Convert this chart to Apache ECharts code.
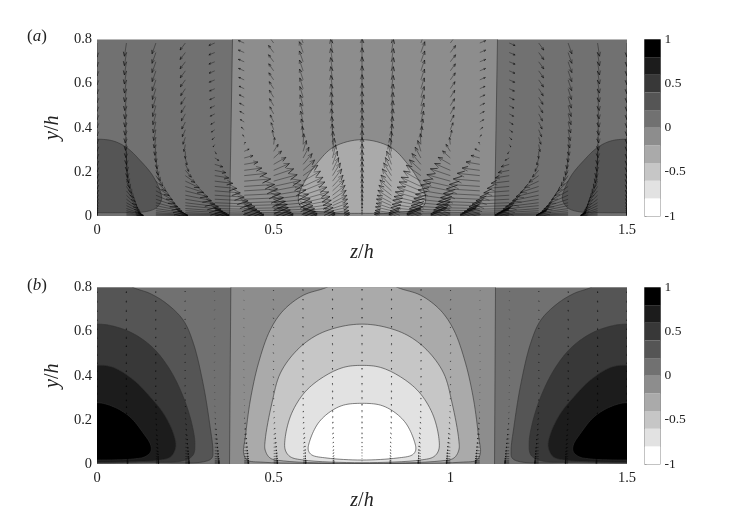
<!DOCTYPE html>
<html><head><meta charset="utf-8">
<style>html,body{margin:0;padding:0;background:#fff}#c{width:747px;height:523px}</style>
<script src="https://cdn.jsdelivr.net/npm/echarts@6/dist/echarts.min.js"></script>
</head><body><div id="c"></div>
<script>
// Colour scale: edges of the contour levels and their greys, bottom (-1) to top (1)
const levelEdges = [-1,-0.8,-0.6,-0.4,-0.2,0,0.2,0.4,0.6,0.8,1];
const levelColors = ['#ffffff','#e2e2e2','#c6c6c6','#aaaaaa','#8d8d8d','#717171','#555555','#383838','#1c1c1c','#000000'];

// Zero contours (z,y)
const aZeroBand = [[0.384,0.85],[0.375,-0.02],[1.125,-0.02],[1.134,0.85]];
const bZeroBand = [[0.379,0.85],[0.375,-0.02],[1.125,-0.02],[1.128,0.85]];
// Half outlines (z,y): the contours are mirror images, corner ones about z=0, centre ones about z=0.75
const aCorner = [[0,0.348],[0.046,0.34],[0.084,0.31],[0.122,0.252],[0.16,0.177],[0.183,0.086],[0.178,0.056],[0.164,0.033],[0.131,0.018],[0.06,0.015],[0,0.015]];
const aCentre = [[0.75,0.346],[0.67,0.313],[0.622,0.238],[0.585,0.148],[0.57,0.086],[0.575,0.048],[0.603,0.026],[0.67,0.014],[0.75,0.012]];
const bCorner1 = [[0,0.87],[0.06,0.845],[0.103,0.8],[0.15,0.773],[0.197,0.727],[0.244,0.652],[0.273,0.546],[0.302,0.35],[0.32,0.169],[0.328,0.063],[0.325,0.027],[0.302,0.01],[0.15,0.006],[0,0.004]];
const bCorner2 = [[0,0.634],[0.046,0.625],[0.104,0.59],[0.16,0.524],[0.207,0.426],[0.244,0.305],[0.268,0.185],[0.277,0.094],[0.272,0.041],[0.244,0.015],[0.123,0.009],[0,0.006]];
const bCorner3 = [[0,0.448],[0.046,0.438],[0.104,0.38],[0.15,0.305],[0.188,0.23],[0.216,0.14],[0.223,0.078],[0.209,0.033],[0.178,0.018],[0.084,0.009],[0,0.007]];
const bCorner4 = [[0,0.278],[0.046,0.26],[0.093,0.214],[0.131,0.14],[0.152,0.086],[0.152,0.056],[0.136,0.033],[0.104,0.023],[0,0.018]];
const bCentre1 = [[0.75,0.87],[0.7,0.845],[0.649,0.8],[0.584,0.765],[0.528,0.697],[0.49,0.607],[0.457,0.457],[0.434,0.29],[0.42,0.124],[0.415,0.05],[0.425,0.018],[0.47,0.008],[0.75,0.003]];
const bCentre2 = [[0.75,0.634],[0.688,0.622],[0.622,0.584],[0.566,0.516],[0.519,0.412],[0.495,0.276],[0.476,0.109],[0.476,0.063],[0.49,0.027],[0.527,0.014],[0.75,0.003]];
const bCentre3 = [[0.75,0.447],[0.698,0.438],[0.641,0.395],[0.589,0.327],[0.551,0.23],[0.533,0.124],[0.533,0.063],[0.547,0.033],[0.584,0.018],[0.75,0.006]];
const bCentre4 = [[0.75,0.275],[0.698,0.267],[0.66,0.237],[0.626,0.185],[0.603,0.109],[0.598,0.063],[0.608,0.041],[0.651,0.027],[0.75,0.018]];

// Velocity samples on rows of y. Unit of u and v: one arrow pixel.
// aU has columns z = 0, 1/12 .. 9/12; the other tables have z = 0 .. 4/12.
// Columns not listed are the mirror images of these in the symmetric field.
const vectorY = [0.784,0.741,0.699,0.658,0.617,0.577,0.538,0.5,0.463,0.426,0.391,0.357,0.324,0.293,0.263,0.234,0.207,0.183,0.158,0.134,0.114,0.094,0.076,0.06,0.047,0.034,0.024,0.015,0.009,0.004];
const aU = [
[0,-2,-3.8,-5.2,-5.9,-5.9,-5.2,-3.8,-2,0],[0,-2,-3.8,-5.2,-5.9,-5.9,-5.2,-3.8,-2,0],[0,-2,-3.8,-5.2,-5.9,-5.9,-5.2,-3.8,-2,0],
[0,-2,-3.7,-5,-5.7,-5.7,-5,-3.7,-2,0],[0,-1.9,-3.6,-4.9,-5.5,-5.5,-4.9,-3.6,-1.9,0],[0,-1.8,-3.4,-4.6,-5.2,-5.2,-4.6,-3.4,-1.8,0],
[0,-1.7,-3.3,-4.4,-5,-5,-4.4,-3.3,-1.7,0],[0,-1.6,-3.1,-4.2,-4.7,-4.7,-4.2,-3.1,-1.6,0],[0,-1.5,-2.9,-3.9,-4.4,-4.4,-3.9,-2.9,-1.5,0],
[0,-1.4,-2.6,-3.5,-3.9,-3.9,-3.5,-2.6,-1.4,0],[0,-1.2,-2.2,-3,-3.3,-2.9,-2.6,-1.9,-1,0],[0,-0.9,-1.7,-2.3,-2.6,-1.5,-1.3,-1,-0.5,0],
[0,-0.5,-1,-1.4,-1.6,1,0.9,0.6,0.3,0],[0,0,0,0,1.5,4.9,4.4,3.2,1.7,0],[0,0.7,1.3,1.7,4,8.8,7.8,5.8,3.1,0],
[0,1.4,2.6,3.5,8,13.7,12.2,9,4.8,0],[0,2.4,4.5,6.1,11,17.6,15.7,11.5,6.1,0],[0,3.7,7,9.6,14,22.5,20,14.7,7.8,0],
[0,5.4,10.2,13.9,18,26.5,23.5,17.3,9.2,0],[0,7.1,13.4,18.3,22,30.4,27,19.8,10.5,0],[0,8.8,16.6,22.6,25.5,33.3,29.6,21.8,11.6,0],
[0,10.2,19.2,26.1,29.4,36.3,32.2,23.7,12.6,0],[0,11.6,21.8,29.6,33.3,39.2,34.8,25.6,13.6,0],[0,12.9,24.3,33.1,37.2,41.2,36.5,26.9,14.3,0],
[0,13.9,26.2,35.7,40.2,43.1,38.3,28.2,15,0],[0,14.6,27.5,37.4,42.1,44.1,39.2,28.8,15.3,0],[0,15.6,29.4,40,45.1,46.1,40.9,30,16,0],
[0,16.3,30.7,41.8,47,47,41.8,30.7,16.3,0],[0,17,32,43.5,49,49,43.5,32,17,0],[0,17,32,43.5,49,49,43.5,32,17,0]];
const aV = [[-14,-13.2,-10.8,-7,-2.4],[-14,-13.2,-10.8,-7,-2.4],[-14,-13.2,-10.8,-7,-2.4],[-14,-13.2,-10.8,-7,-2.4],[-14,-13.2,-10.8,-7,-2.4],[-14,-13.2,-10.8,-7,-2.4],[-14,-13.2,-10.8,-7,-2.4],[-14,-13.2,-10.8,-7,-2.4],[-14,-13.2,-10.8,-7,-2.4],[-14,-13.2,-10.8,-7,-2.4],[-14,-13.2,-10.8,-7,-2.4],[-14,-13.2,-10.8,-7,-2.4],[-14,-13.2,-10.8,-7,-2.4],[-14,-13.2,-10.8,-7,-2.4],[-14,-13.2,-10.8,-7,-2.4],[-14,-13.2,-10.8,-7,-2.4],[-13.5,-12.7,-10.4,-6.8,-2.3],[-13.5,-12.7,-10.4,-6.8,-2.3],[-13,-12.2,-10,-6.5,-2.2],[-12,-11.3,-9.2,-6,-2],[-11.5,-10.8,-8.9,-5.8,-2],[-10.5,-9.9,-8.1,-5.3,-1.8],[-9.5,-8.9,-7.3,-4.8,-1.6],[-8,-7.5,-6.2,-4,-1.4],[-7,-6.6,-5.4,-3.5,-1.2],[-5.5,-5.2,-4.2,-2.8,-0.9],[-4,-3.8,-3.1,-2,-0.7],[-2.3,-2.2,-1.8,-1.2,-0.4],[-1.4,-1.3,-1.1,-0.7,-0.2],[-0.6,-0.6,-0.5,-0.3,-0.1]];
const bU = [[0,-0.1,-0.2,-0.3,-0.3],[0,-0.1,-0.2,-0.3,-0.3],[0,-0.1,-0.2,-0.3,-0.3],[0,-0.1,-0.2,-0.3,-0.3],[0,-0.1,-0.2,-0.3,-0.3],[0,-0.1,-0.2,-0.3,-0.3],[0,-0.1,-0.2,-0.3,-0.3],[0,-0.1,-0.2,-0.3,-0.3],[0,-0.1,-0.2,-0.3,-0.3],[0,-0.1,-0.2,-0.3,-0.3],[0,-0.1,-0.2,-0.3,-0.3],[0,-0.1,-0.2,-0.3,-0.3],[0,0,-0.1,-0.1,-0.1],[0,0,0,0,0],[0,0.1,0.1,0.2,0.2],[0,0.1,0.3,0.3,0.4],[0,0.2,0.4,0.6,0.7],[0,0.4,0.7,1,1.1],[0,0.5,1,1.4,1.6],[0,0.7,1.3,1.8,2.1],[0,0.9,1.7,2.3,2.5],[0,1,1.9,2.6,2.9],[0,1.2,2.2,3,3.3],[0,1.3,2.4,3.3,3.7],[0,1.4,2.6,3.6,4],[0,1.5,2.8,3.7,4.2],[0,1.6,2.9,4,4.5],[0,1.6,3.1,4.2,4.7],[0,1.7,3.2,4.4,4.9],[0,1.7,3.2,4.4,4.9]];
const bV = [[-1.8,-1.7,-1.4,-0.9,-0.3],[-1.8,-1.7,-1.4,-0.9,-0.3],[-1.8,-1.7,-1.4,-0.9,-0.3],[-1.8,-1.7,-1.4,-0.9,-0.3],[-1.8,-1.7,-1.4,-0.9,-0.3],[-1.8,-1.7,-1.4,-0.9,-0.3],[-1.8,-1.7,-1.4,-0.9,-0.3],[-1.8,-1.7,-1.4,-0.9,-0.3],[-1.8,-1.7,-1.4,-0.9,-0.3],[-1.8,-1.7,-1.4,-0.9,-0.3],[-1.8,-1.7,-1.4,-0.9,-0.3],[-1.8,-1.7,-1.4,-0.9,-0.3],[-1.8,-1.7,-1.4,-0.9,-0.3],[-1.8,-1.7,-1.4,-0.9,-0.3],[-1.8,-1.7,-1.4,-0.9,-0.3],[-1.8,-1.7,-1.4,-0.9,-0.3],[-1.8,-1.7,-1.4,-0.9,-0.3],[-1.8,-1.7,-1.4,-0.9,-0.3],[-1.7,-1.6,-1.3,-0.8,-0.3],[-1.6,-1.5,-1.2,-0.8,-0.3],[-1.5,-1.4,-1.2,-0.8,-0.3],[-1.3,-1.2,-1,-0.6,-0.2],[-1.2,-1.1,-0.9,-0.6,-0.2],[-1,-0.9,-0.8,-0.5,-0.2],[-0.9,-0.8,-0.7,-0.4,-0.2],[-0.7,-0.7,-0.5,-0.4,-0.1],[-0.5,-0.5,-0.4,-0.3,-0.1],[-0.3,-0.3,-0.2,-0.2,-0.1],[-0.2,-0.2,-0.1,-0.1,0],[-0.1,-0.1,-0.1,0,0]];

const zStep = 1/12, zPerPx = 1.5/530, yPerPx = 0.8/176.5;

function column(c, table, row, flip){ // value of column c = 0..18, mirrored where the table stops
  const m = c > 9 ? 18 - c : c;
  const cells = table[row];
  const idx = cells.length === 10 ? m : (m > 4 ? 9 - m : m);
  let val = cells[idx];
  if (flip === 'u' && c > 9) val = -val;
  if (flip === 'v' && m > 4) val = -val;
  return val;
}
function arrows(U, V){
  const out = [];
  for (let c = 0; c <= 18; c++) for (let r = 0; r < vectorY.length; r++)
    out.push([c*zStep, vectorY[r], column(c,U,r,'u')*zPerPx, column(c,V,r,'v')*yPerPx]);
  return out;
}
function closed(half, axis){ // half outline plus its mirror image about z = axis
  const back = half.slice(1,-1).reverse().map(p => [2*axis - p[0], p[1]]);
  return half.concat(back);
}
function right(half){ return half.map(p => [1.5 - p[0], p[1]]); }
// Rounds an outline for drawing: closed centripetal Catmull-Rom through the pixel points
function rounded(pts){
  const n = pts.length, out = [];
  const d = (a,b) => Math.max(1e-3, Math.sqrt(Math.hypot(a[0]-b[0],a[1]-b[1])));
  const mix = (a,b,ta,tb,t) => [a[0]+(b[0]-a[0])*(t-ta)/(tb-ta), a[1]+(b[1]-a[1])*(t-ta)/(tb-ta)];
  for (let i = 0; i < n; i++){
    const p0=pts[(i-1+n)%n], p1=pts[i], p2=pts[(i+1)%n], p3=pts[(i+2)%n];
    const t0=0, t1=t0+d(p0,p1), t2=t1+d(p1,p2), t3=t2+d(p2,p3);
    for (let k = 0; k < 8; k++){
      const t=t1+(t2-t1)*k/8;
      const a1=mix(p0,p1,t0,t1,t), a2=mix(p1,p2,t1,t2,t), a3=mix(p2,p3,t2,t3,t);
      const b1=mix(a1,a2,t0,t2,t), b2=mix(a2,a3,t1,t3,t);
      out.push(mix(b1,b2,t1,t2,t));
    }
  }
  return out;
}

const fullRect = [[-0.05,-0.05],[1.55,-0.05],[1.55,0.9],[-0.05,0.9]];
const aShapes = [
  {pts:fullRect, level:5, sharp:true},
  {pts:aZeroBand, level:4, sharp:true},
  {pts:closed(aCorner,0), level:6},
  {pts:closed(right(aCorner),1.5), level:6},
  {pts:closed(aCentre,0.75), level:3}
];
const bShapes = [{pts:fullRect, level:5, sharp:true},{pts:bZeroBand, level:4, sharp:true}];
[bCorner1,bCorner2,bCorner3,bCorner4].forEach((h,i)=>{
  bShapes.push({pts:closed(h,0), level:6+i});
  bShapes.push({pts:closed(right(h),1.5), level:6+i});
});
[bCentre1,bCentre2,bCentre3,bCentre4].forEach((h,i)=>{ bShapes.push({pts:closed(h,0.75), level:3-i}); });

function shapeSeries(shapes, gi){
  return {type:'custom', xAxisIndex:gi, yAxisIndex:gi, clip:true, silent:true, z:2,
    data: shapes.map((s,i)=>[i]), encode:{x:[],y:[]},
    renderItem:(p,api)=>{ const s = shapes[api.value(0)];
      const px = s.pts.map(q=>api.coord(q));
      return {type:'polygon', shape:{points:s.sharp?px:rounded(px)},
        style:{fill:levelColors[s.level], stroke:'#303030', lineWidth:0.6}}; }};
}
function arrowSeries(list, gi, lw, alpha){
  return {type:'custom', xAxisIndex:gi, yAxisIndex:gi, clip:true, silent:true, z:3,
    data:list, encode:{x:0,y:1},
    renderItem:(p,api)=>{
      const z=api.value(0), y=api.value(1), dz=api.value(2), dy=api.value(3);
      const a=api.coord([z,y]), b=api.coord([z+dz,y+dy]);
      const dx=b[0]-a[0], dyp=b[1]-a[1];
      const h1=[b[0]-0.32*dx-0.13*dyp, b[1]-0.32*dyp+0.13*dx], h2=[b[0]-0.32*dx+0.13*dyp, b[1]-0.32*dyp-0.13*dx];
      return {type:'polyline', shape:{points:[a,b,h1,b,h2]}, style:{stroke:'#000', lineWidth:lw, opacity:alpha, fill:null}};
    }};
}
function barSeries(gi){
  return {type:'custom', xAxisIndex:gi, yAxisIndex:gi, silent:true, z:2,
    data: levelColors.map((c,i)=>[0.5, levelEdges[i], levelEdges[i+1], i]), encode:{x:0,y:[1,2]},
    renderItem:(p,api)=>{
      const a=api.coord([0,api.value(2)]), b=api.coord([1,api.value(1)]);
      return {type:'rect', shape:{x:a[0],y:a[1],width:b[0]-a[0],height:b[1]-a[1]}, style:{fill:levelColors[api.value(3)]}};
    }};
}
const serif = '"Liberation Serif","DejaVu Serif",serif', textCol = '#222';
const rich = size => ({i:{fontFamily:serif,fontStyle:'italic',fontSize:size,color:textCol}});
const plotX = gi => ({gridIndex:gi,type:'value',min:0,max:1.5,interval:0.5,name:'{i|z}/{i|h}',nameLocation:'middle',nameGap:27,
  nameTextStyle:{fontFamily:serif,fontSize:20,color:textCol,rich:rich(20)},axisLine:{show:false},axisTick:{show:false},splitLine:{show:false},
  axisLabel:{fontFamily:serif,fontSize:14.5,color:textCol,margin:7}});
const plotY = gi => ({gridIndex:gi,type:'value',min:0,max:0.8,interval:0.2,name:'{i|y}/{i|h}',nameLocation:'middle',nameGap:29,
  nameTextStyle:{fontFamily:serif,fontSize:20,color:textCol,rich:rich(20)},axisLine:{show:false},axisTick:{show:false},splitLine:{show:false},
  axisLabel:{fontFamily:serif,fontSize:14.5,color:textCol,margin:5}});
const barX = gi => ({gridIndex:gi,type:'value',min:0,max:1,show:false});
const barY = gi => ({gridIndex:gi,type:'value',min:-1,max:1,interval:0.5,position:'right',axisLine:{show:false},
  axisTick:{show:true,length:2,inside:false,lineStyle:{color:'#888',width:0.6}},splitLine:{show:false},
  axisLabel:{fontFamily:serif,fontSize:13.5,color:textCol,margin:4}});

const option = {
  animation:false, backgroundColor:'#fff',
  title:[
    {text:'({i|a})',left:22,top:23,textStyle:{fontFamily:serif,fontSize:17,fontWeight:'normal',color:textCol,rich:rich(17)}},
    {text:'({i|b})',left:22,top:272,textStyle:{fontFamily:serif,fontSize:17,fontWeight:'normal',color:textCol,rich:rich(17)}}
  ],
  grid:[
    {left:97,top:39.5,width:530,height:176.5},
    {left:644.5,top:39.5,width:16,height:176.5,show:true,borderColor:'#888',borderWidth:1,backgroundColor:'#fff'},
    {left:97,top:287.5,width:530,height:176.5},
    {left:644.5,top:287.5,width:16,height:176.5,show:true,borderColor:'#888',borderWidth:1,backgroundColor:'#fff'}
  ],
  xAxis:[plotX(0),barX(1),plotX(2),barX(3)],
  yAxis:[plotY(0),barY(1),plotY(2),barY(3)],
  series:[
    shapeSeries(aShapes,0),
    arrowSeries(arrows(aU,aV),0,0.6,0.6),
    barSeries(1),
    shapeSeries(bShapes,2),
    arrowSeries(arrows(bU,bV),2,0.7,0.6),
    barSeries(3)
  ]
};
echarts.init(document.getElementById('c'),null,{renderer:'canvas'}).setOption(option);
</script></body></html>
